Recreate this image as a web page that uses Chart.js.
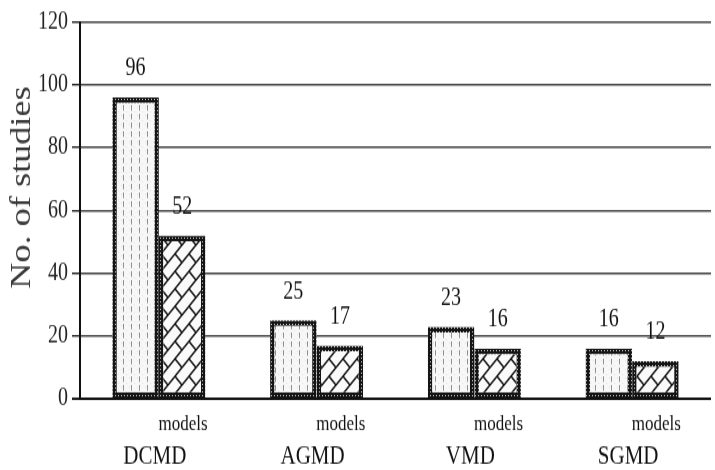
<!DOCTYPE html>
<html>
<head>
<meta charset="utf-8">
<script src="https://cdn.jsdelivr.net/npm/chart.js@4"></script>
<style>
  html, body { margin: 0; padding: 0; background: #ffffff; }
</style>
</head>
<body>
<canvas id="c" width="715" height="376" style="display:block;width:715px;height:470px;"></canvas>
<script>
// ---- data ----
const categories = ['DCMD', 'AGMD', 'VMD', 'SGMD'];
const seriesStudies = [96, 25, 23, 16];
const seriesModels = [52, 17, 16, 12];
const subLabel = 'models';
const yTitle = 'No. of studies';
const yMin = 0, yMax = 120, yStep = 20;

// ---- patterns ----
function makePattern(w, h, draw) {
  const c = document.createElement('canvas');
  c.width = w; c.height = h;
  const g = c.getContext('2d');
  draw(g, w, h);
  return g.createPattern(c, 'repeat');
}
const canvasEl = document.getElementById('c');
const ctx = canvasEl.getContext('2d');

const dashFill = makePattern(8, 7, (g, w, h) => {
  g.fillStyle = '#f7f7f7'; g.fillRect(0, 0, w, h);
  g.fillStyle = '#e4e4e4'; g.fillRect(1, 1, 1, 1); g.fillRect(6, 5, 1, 1);
  g.strokeStyle = '#8f8f8f'; g.lineWidth = 1;
  g.beginPath(); g.moveTo(3.5, 0); g.lineTo(3.5, 4.5); g.stroke();
});

const brickFill = makePattern(14, 14, (g, w, h) => {
  g.fillStyle = '#fafafa'; g.fillRect(0, 0, w, h);
  g.strokeStyle = '#111'; g.lineWidth = 1.5; g.lineCap = 'square';
  g.beginPath();
  g.moveTo(-1, 15); g.lineTo(15, -1);
  g.moveTo(-1, 1); g.lineTo(1, -1);
  g.moveTo(13, 15); g.lineTo(15, 13);
  g.moveTo(7, 7); g.lineTo(14, 14);
  g.stroke();
});

const chainBorder = makePattern(3, 3, (g, w, h) => {
  g.fillStyle = '#151515'; g.fillRect(0, 0, w, h);
  g.fillStyle = '#c8c8c8'; g.fillRect(1, 1, 1, 1);
});

// ---- plugins ----
const valueLabels = {
  id: 'valueLabels',
  afterDatasetsDraw(chart) {
    const c = chart.ctx;
    c.save();
    c.font = '20px "Liberation Serif", "Times New Roman", serif';
    c.fillStyle = '#111';
    c.textAlign = 'center';
    c.textBaseline = 'middle';
    chart.data.datasets.forEach((ds, di) => {
      chart.getDatasetMeta(di).data.forEach((el, i) => {
        c.fillText(String(ds.data[i]), el.x, el.y - 23);
      });
    });
    c.restore();
  }
};

const bottomLabels = {
  id: 'bottomLabels',
  afterDraw(chart) {
    const c = chart.ctx;
    const xs = chart.scales.x;
    const meta2 = chart.getDatasetMeta(1);
    c.save();
    c.fillStyle = '#111';
    c.textAlign = 'center';
    c.textBaseline = 'middle';
    categories.forEach((cat, i) => {
      c.font = '17px "Liberation Serif", "Times New Roman", serif';
      c.fillText(subLabel, meta2.data[i].x + 1, 340);
      c.font = '21px "Liberation Serif", "Times New Roman", serif';
      c.fillText(cat, xs.getPixelForValue(i) - 4, 365.5);
    });
    c.restore();
  }
};

const yTitlePlugin = {
  id: 'yTitlePlugin',
  afterDraw(chart) {
    const c = chart.ctx;
    c.save();
    c.translate(22, 150);
    c.rotate(-Math.PI / 2);
    c.font = '29px "Liberation Serif", "Times New Roman", serif';
    c.fillStyle = '#383838';
    c.textAlign = 'center';
    c.textBaseline = 'middle';
    c.fillText(yTitle, 0, 0);
    c.restore();
  }
};

new Chart(ctx, {
  type: 'bar',
  data: {
    labels: categories,
    datasets: [
      {
        label: 'studies',
        data: seriesStudies,
        backgroundColor: dashFill,
        borderColor: chainBorder,
        borderWidth: 4.5,
        borderSkipped: false,
        categoryPercentage: 0.59,
        barPercentage: 1.0
      },
      {
        label: subLabel,
        data: seriesModels,
        backgroundColor: brickFill,
        borderColor: chainBorder,
        borderWidth: 4.5,
        borderSkipped: false,
        categoryPercentage: 0.59,
        barPercentage: 1.0
      }
    ]
  },
  options: {
    responsive: false,
    devicePixelRatio: 1,
    animation: false,
    layout: { padding: { top: 17.6, right: 4, left: 0, bottom: 0 } },
    plugins: {
      legend: { display: false },
      tooltip: { enabled: false },
      title: { display: false }
    },
    scales: {
      x: {
        grid: { display: false },
        border: { display: false },
        ticks: { display: false },
        afterFit(scale) { scale.height = 56.8; }
      },
      y: {
        min: yMin,
        max: yMax,
        ticks: {
          stepSize: yStep,
          padding: 4,
          color: '#222',
          font: { family: '"Liberation Serif", "Times New Roman", serif', size: 20 }
        },
        grid: {
          color: (c) => (c.tick && c.tick.value === 0 ? '#111' : '#444'),
          lineWidth: (c) => (c.tick && c.tick.value === 0 ? 2 : 1.4),
          tickColor: '#222',
          tickLength: 8,
          drawTicks: true
        },
        border: { display: true, color: '#111', width: 2 },
        afterFit(scale) { scale.width = 80; }
      }
    }
  },
  plugins: [valueLabels, bottomLabels, yTitlePlugin]
});
// keep the display stretch (source figure is taller than wide)
canvasEl.style.width = '715px';
canvasEl.style.height = '470px';
</script>
</body>
</html>
